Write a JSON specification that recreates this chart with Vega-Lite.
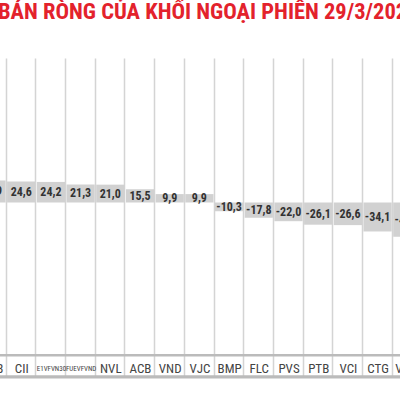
{
  "$schema": "https://vega.github.io/schema/vega-lite/v6.json",
  "width": 400,
  "height": 319,
  "autosize": {"type": "none"},
  "padding": {"left": 0, "right": 0, "top": 58, "bottom": 23},
  "background": "white",
  "config": {"view": {"stroke": null}},
  "title": {
    "text": "BÁN RÒNG CỦA KHỐI NGOẠI PHIÊN 29/3/2021",
    "anchor": "start",
    "frame": "group",
    "font": "'Roboto Condensed', 'DejaVu Sans Condensed', Roboto, sans-serif",
    "fontSize": 22.5,
    "fontWeight": "bold",
    "color": "#e3222c",
    "baseline": "alphabetic",
    "offset": 14,
    "dx": -2,
    "dy": -3
  },
  "data": {
    "values": [
      {"code": "HDB", "value": 25.9, "label": "25,9"},
      {"code": "CII", "value": 24.6, "label": "24,6"},
      {"code": "E1VFVN30", "value": 24.2, "label": "24,2"},
      {"code": "FUEVFVND", "value": 21.3, "label": "21,3"},
      {"code": "NVL", "value": 21.0, "label": "21,0"},
      {"code": "ACB", "value": 15.5, "label": "15,5"},
      {"code": "VND", "value": 9.9, "label": "9,9"},
      {"code": "VJC", "value": 9.9, "label": "9,9"},
      {"code": "BMP", "value": -10.3, "label": "-10,3"},
      {"code": "FLC", "value": -17.8, "label": "-17,8"},
      {"code": "PVS", "value": -22.0, "label": "-22,0"},
      {"code": "PTB", "value": -26.1, "label": "-26,1"},
      {"code": "VCI", "value": -26.6, "label": "-26,6"},
      {"code": "CTG", "value": -34.1, "label": "-34,1"},
      {"code": "VHM", "value": -40.2, "label": "-40,2"}
    ]
  },
  "transform": [{"calculate": "datum.value / 2", "as": "mid"}],
  "layer": [
    {
      "mark": {"type": "bar", "color": "#d1d1d1"},
      "encoding": {
        "x": {
          "field": "code",
          "type": "nominal",
          "sort": null,
          "scale": {"range": [-22.6, 421.4], "paddingInner": 0.05, "paddingOuter": 0},
          "axis": {
            "title": null,
            "orient": "bottom",
            "tickBand": "extent",
            "grid": true,
            "gridColor": "#d4d4d4",
            "gridWidth": 1.5,
            "domain": true,
            "domainColor": "#bbbbbb",
            "domainWidth": 2,
            "ticks": false,
            "labelAngle": 0,
            "labelPadding": -9,
            "labelBaseline": "middle",
            "labelFont": "'Roboto Condensed', 'DejaVu Sans Condensed', Roboto, sans-serif",
            "labelFontSize": {"condition": {"test": "length(datum.label) > 5", "value": 7}, "value": 13},
            "labelColor": "#444444",
            "labelOverlap": false,
            "labelBound": false,
            "labelFlush": false
          }
        },
        "y": {
          "field": "value",
          "type": "quantitative",
          "scale": {"domain": [-205.3, 170], "nice": false, "zero": false},
          "axis": {
            "values": [-179.4],
            "grid": true,
            "gridColor": "#bbbbbb",
            "gridWidth": 2,
            "domain": false,
            "ticks": false,
            "labels": false,
            "title": null
          }
        }
      }
    },
    {
      "mark": {
        "type": "text",
        "font": "'Roboto Condensed', 'DejaVu Sans Condensed', Roboto, sans-serif",
        "fontWeight": "bold",
        "fontSize": 12,
        "color": "#333333",
        "baseline": "middle"
      },
      "encoding": {
        "x": {"field": "code", "type": "nominal", "sort": null},
        "y": {"field": "mid", "type": "quantitative"},
        "text": {"field": "label"}
      }
    },
    {
      "data": {"values": [{"line": "top"}]},
      "mark": {"type": "rule", "color": "#bbbbbb", "strokeWidth": 2},
      "encoding": {
        "y": {"datum": -179.4, "type": "quantitative"}
      }
    },
    {
      "data": {"values": [{"line": "bottom"}]},
      "mark": {"type": "rule", "color": "#bbbbbb", "strokeWidth": 2},
      "encoding": {
        "y": {"datum": -204.3, "type": "quantitative"}
      }
    }
  ]
}
